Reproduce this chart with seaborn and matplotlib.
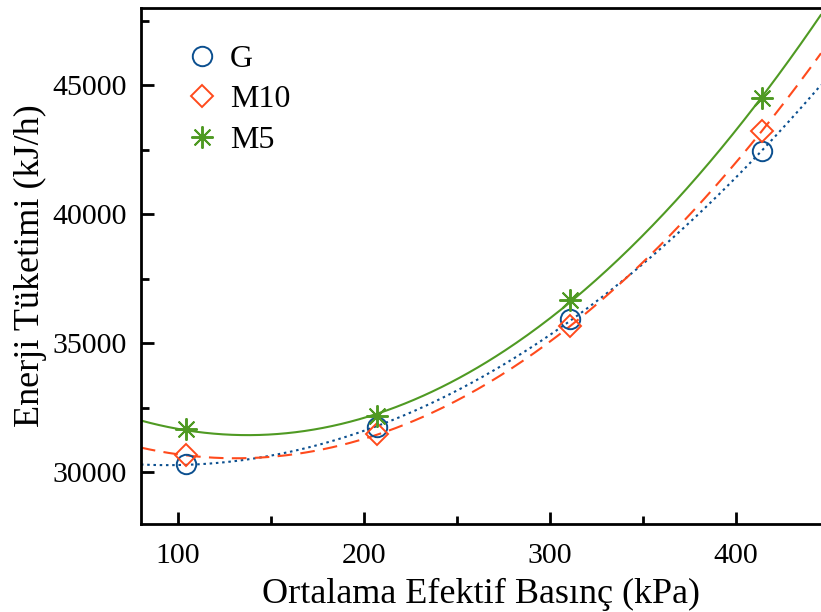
import numpy as np
import seaborn as sns
from matplotlib import pyplot as plt
from matplotlib.ticker import MultipleLocator

# pressure (kPa) and energy consumption (kJ/h)
pressure = [104, 207, 311, 414]
energy_g = [30310, 31740, 35930, 42440]
energy_m10 = [30660, 31470, 35660, 43220]
energy_m5 = [31670, 32170, 36700, 44500]

series = [
    ("G", energy_g, "#0b4f8f", "o", (0, (1.2, 1.8))),
    ("M10", energy_m10, "#ff4a1c", "D", (0, (7, 4))),
    ("M5", energy_m5, "#4f9a23", (8, 2, 0), "-"),
]

sns.set_style("ticks")
plt.rcParams["font.family"] = ["Liberation Serif", "DejaVu Serif"]
for key in ["text.color", "axes.labelcolor", "xtick.color", "ytick.color", "axes.edgecolor"]:
    plt.rcParams[key] = "black"

fig = plt.figure(figsize=(8.21, 6.12), dpi=100)
ax = fig.add_axes([0.1717, 0.1438, 0.8283, 0.8432])

x_fit = np.linspace(80, 446, 300)
for name, values, color, marker, ls in series:
    coef = np.polyfit(pressure, values, 2)
    sns.lineplot(x=x_fit, y=np.polyval(coef, x_fit), ax=ax, color=color,
                 linestyle=ls, linewidth=1.5, legend=False)

marker_size = {"G": 14, "M10": 11.5, "M5": 16}
for name, values, color, marker, ls in series:
    ax.plot(pressure, values, linestyle="none", marker=marker,
            markersize=marker_size[name], markerfacecolor="none",
            markeredgecolor=color, markeredgewidth=1.4, label=name)

ax.set_xlim(80, 446)
ax.set_ylim(28000, 48000)
ax.xaxis.set_major_locator(MultipleLocator(100))
ax.xaxis.set_minor_locator(MultipleLocator(50))
ax.yaxis.set_major_locator(MultipleLocator(5000))
ax.yaxis.set_minor_locator(MultipleLocator(2500))

ax.tick_params(axis="both", which="major", direction="in", length=9, width=2,
               labelsize=21.5, top=False, right=False)
ax.tick_params(axis="x", which="major", pad=14)
ax.tick_params(axis="y", which="major", pad=10)
ax.tick_params(axis="both", which="minor", direction="in", length=6, width=2,
               top=False, right=False)

for side in ["left", "bottom", "top"]:
    ax.spines[side].set_linewidth(2)
ax.spines["right"].set_visible(False)

ax.set_xlabel("Ortalama Efektif Basınç (kPa)", fontsize=26, labelpad=6)
ax.set_ylabel("Enerji Tüketimi (kJ/h)", fontsize=26, labelpad=4)

ax.legend(loc="upper left", bbox_to_anchor=(0.02, 0.985), frameon=False,
          fontsize=23, handlelength=1.2, handletextpad=0.25, labelspacing=0.35)

plt.savefig("out.png", dpi=100)
